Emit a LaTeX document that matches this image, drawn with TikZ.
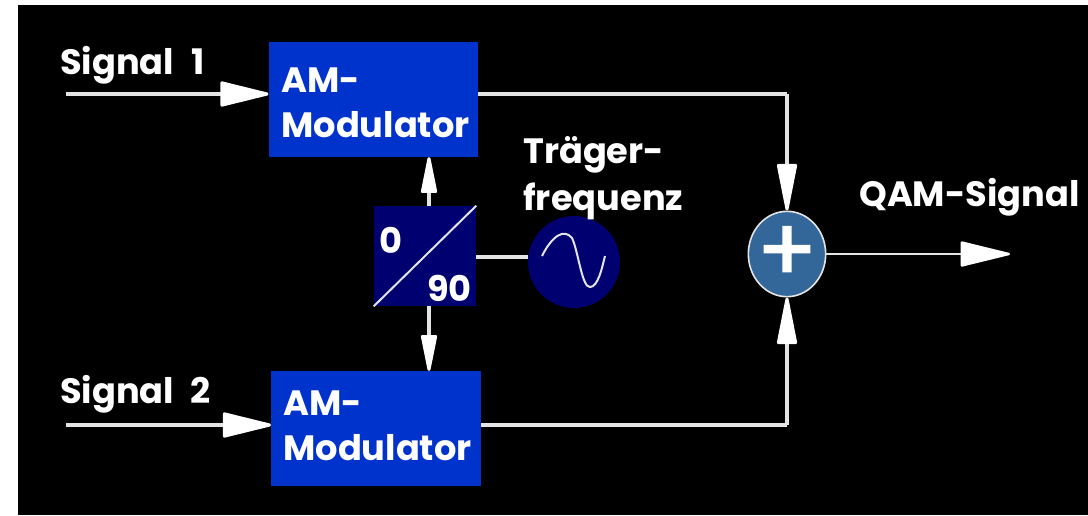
\documentclass[tikz,border=0pt]{standalone}
\usepackage{fontspec}
\setmainfont{Poppins}
\newfontfamily\plusfont[FakeBold=2]{Poppins}
\usepackage{tikz}
\usetikzlibrary{arrows.meta}
\usetikzlibrary{shapes.geometric}

\definecolor{modblue}{HTML}{0033CC}
\definecolor{navyblue}{HTML}{000070}
\definecolor{sumblue}{HTML}{336699}
\definecolor{wiregray}{HTML}{E4E4E4}

\begin{document}
\begin{tikzpicture}[x=0.75pt, y=-0.75pt,
        modbox/.style={rectangle, fill=modblue, minimum width=157pt, minimum height=86pt, inner sep=0pt},
        label/.style={text=white, font=\bfseries\fontsize{26.4}{32}\selectfont, inner sep=0pt, anchor=west},
        wire/.style={draw=wiregray, line width=2.3pt},
        bigtip/.style={wire, -{Triangle[round, length=40pt, width=19pt, fill=white, color=white]}},
        midtip/.style={wire, -{Triangle[round, length=40pt, width=15pt, fill=white, color=white]}},
        smalltip/.style={wire, -{Triangle[round, length=32pt, width=12pt, fill=white, color=white]}}]
            \path[use as bounding box, fill=white] (0, 0) rectangle (1088, 515);
            \fill[black] (18, 5) rectangle (1088, 515);

            \node[modbox] (mod1) at (373.5, 99.5) {};
            \node[modbox] (mod2) at (376, 428.5) {};
            \node[rectangle, fill=navyblue, minimum width=76.5pt, minimum height=75pt, inner sep=0pt] (phase) at (425, 256) {};
            \node[circle, fill=navyblue, minimum size=69pt, inner sep=0pt] (osc) at (574, 262) {};
            \node[ellipse, fill=sumblue, draw=wiregray, line width=1.2pt, minimum width=58pt, minimum height=64pt, inner sep=0pt] (sum) at (787, 254) {};

            \node[label] (am1) at (281, 80) {AM-};
            \node[label] (am1b) at (281, 125) {Modulator};
            \node[label] (am2) at (283, 403) {AM-};
            \node[label] (am2b) at (283, 448) {Modulator};
            \node[label] (sig1) at (60, 65) {Signal\hspace{13pt}1};
            \node[label] (sig2) at (60, 394) {Signal\hspace{12pt}2};
            \node[label] (carrier) at (523, 155) {Träger-};
            \node[label] (carrierb) at (523, 201) {frequenz};
            \node[label] (qam) at (859, 197) {QAM-Signal};
            \node[label] (zero) at (379, 240) {0};
            \node[label] (ninety) at (427, 288) {90};
            \node[text=white, font=\plusfont\fontsize{66}{66}\selectfont, inner sep=0pt] (plus) at (sum.center) {+};

            \coordinate (in1) at (66, 94);
            \coordinate (in2) at (66, 425);
            \coordinate (out) at (1010, 254);
            \coordinate (bend1) at (787, 94);
            \coordinate (bend2) at (787, 425);

            \draw[bigtip] (in1) -- (mod1.west |- in1);
            \draw[bigtip] (in2) -- (mod2.west |- in2);
            \draw[wire] (mod1.east |- bend1) -- (bend1);
            \draw[midtip] (bend1) -- (sum.north);
            \draw[wire] (mod2.east |- bend2) -- (bend2);
            \draw[midtip] (bend2) -- (sum.south);
            \draw[bigtip, line width=1.8pt] (sum.east) -- (out);
            \draw[smalltip] (phase.north -| 429, 0) -- (mod1.south -| 429, 0);
            \draw[smalltip] (phase.south -| 429, 0) -- (mod2.north -| 429, 0);
            \draw[wire] (phase.east |- 0, 257) -- (osc.west |- 0, 257);
            \draw[wiregray, line width=1.5pt] (phase.south west) -- (phase.north east);
            \draw[wiregray, line width=1.5pt] (542, 256) .. controls (552, 236) and (564, 228) .. (572, 238) .. controls (578, 250) and (582, 288) .. (590, 287) .. controls (598, 287) and (602, 268) .. (605, 256);
        \end{tikzpicture}
\end{document}
